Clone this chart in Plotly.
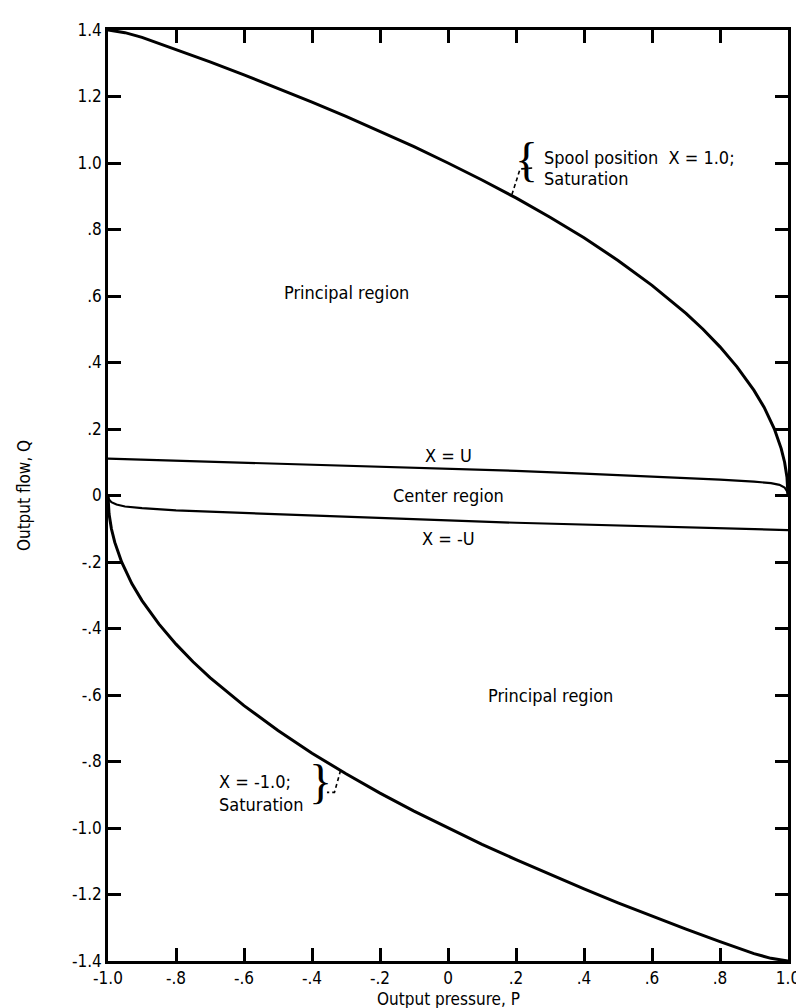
import plotly.graph_objects as go

# ---- data ----
sat_pos_P = [-1.0, -0.95, -0.9, -0.8, -0.7, -0.6, -0.5, -0.4, -0.3, -0.2, -0.1, 0.0, 0.1, 0.2, 0.3,
             0.4, 0.5, 0.6, 0.7, 0.75, 0.8, 0.85, 0.9, 0.93, 0.96, 0.98, 0.99, 0.997, 1.0]
sat_pos_Q = [1.40, 1.392, 1.378, 1.342, 1.304, 1.265, 1.225, 1.183, 1.14, 1.095, 1.049, 1.0, 0.949,
             0.895, 0.837, 0.775, 0.707, 0.632, 0.548, 0.50, 0.447, 0.387, 0.316, 0.265, 0.20,
             0.141, 0.10, 0.055, 0.0]

sat_neg_P = [-1.0, -0.997, -0.99, -0.98, -0.96, -0.93, -0.9, -0.85, -0.8, -0.75, -0.7, -0.6, -0.5,
             -0.4, -0.3, -0.2, -0.1, 0.0, 0.1, 0.2, 0.3, 0.4, 0.5, 0.6, 0.7, 0.8, 0.9, 0.95, 1.0]
sat_neg_Q = [0.0, -0.055, -0.10, -0.141, -0.20, -0.265, -0.316, -0.387, -0.447, -0.50, -0.548,
             -0.632, -0.707, -0.775, -0.837, -0.895, -0.949, -1.0, -1.049, -1.095, -1.14, -1.183,
             -1.225, -1.265, -1.304, -1.342, -1.378, -1.392, -1.40]

xu_P = [-1.0, -0.8, -0.6, -0.4, -0.2, 0.0, 0.2, 0.4, 0.6, 0.8, 0.9, 0.95, 0.975, 0.99, 0.997, 1.0]
xu_Q = [0.111, 0.105, 0.10, 0.094, 0.088, 0.081, 0.074, 0.066, 0.058, 0.048, 0.042, 0.037, 0.032,
        0.024, 0.013, 0.004]

xmu_P = [-1.0, -0.997, -0.99, -0.975, -0.95, -0.9, -0.8, -0.6, -0.4, -0.2, 0.0, 0.2, 0.4, 0.6,
         0.8, 1.0]
xmu_Q = [-0.004, -0.012, -0.020, -0.027, -0.033, -0.038, -0.045, -0.053, -0.061, -0.068, -0.075,
         -0.082, -0.088, -0.094, -0.099, -0.104]

x_ticks = [-1.0, -0.8, -0.6, -0.4, -0.2, 0.0, 0.2, 0.4, 0.6, 0.8, 1.0]
x_tick_labels = ["-1.0", "-.8", "-.6", "-.4", "-.2", "0", ".2", ".4", ".6", ".8", "1.0"]
y_ticks = [1.4, 1.2, 1.0, 0.8, 0.6, 0.4, 0.2, 0.0, -0.2, -0.4, -0.6, -0.8, -1.0, -1.2, -1.4]
y_tick_labels = ["1.4", "1.2", "1.0", ".8", ".6", ".4", ".2", "0", "-.2", "-.4", "-.6", "-.8",
                 "-1.0", "-1.2", "-1.4"]

FONT = "DejaVu Sans Condensed, Liberation Sans Narrow, Arial Narrow, sans-serif"
BRACE_FONT = "Liberation Serif, DejaVu Serif, serif"

fig = go.Figure()
fig.add_trace(go.Scatter(x=sat_pos_P, y=sat_pos_Q, mode="lines", line=dict(color="black", width=3), hoverinfo="skip"))
fig.add_trace(go.Scatter(x=sat_neg_P, y=sat_neg_Q, mode="lines", line=dict(color="black", width=3), hoverinfo="skip"))
fig.add_trace(go.Scatter(x=xu_P, y=xu_Q, mode="lines", line=dict(color="black", width=2.2), hoverinfo="skip"))
fig.add_trace(go.Scatter(x=xmu_P, y=xmu_Q, mode="lines", line=dict(color="black", width=2.2), hoverinfo="skip"))

# leader lines (dashed)
fig.add_trace(go.Scatter(x=[0.188, 0.212, 0.250], y=[0.905, 0.982, 0.985], mode="lines",
                         line=dict(color="black", width=1.6, dash="4px,3px"), hoverinfo="skip"))
fig.add_trace(go.Scatter(x=[-0.316, -0.334, -0.356], y=[-0.827, -0.893, -0.893], mode="lines",
                         line=dict(color="black", width=1.6, dash="4px,3px"), hoverinfo="skip"))

ann_font = dict(family=FONT, size=18, color="black")
annotations = [
    dict(x=-0.30, y=0.61, text="Principal region", xanchor="center", yanchor="middle"),
    dict(x=0.30, y=-0.60, text="Principal region", xanchor="center", yanchor="middle"),
    dict(x=0.0, y=0.12, text="X = U", xanchor="center", yanchor="middle"),
    dict(x=0.0, y=0.0, text="Center region", xanchor="center", yanchor="middle"),
    dict(x=0.0, y=-0.13, text="X = -U", xanchor="center", yanchor="middle"),
    dict(x=0.275, y=1.018, text="Spool position  X = 1.0;", xanchor="left", yanchor="middle"),
    dict(x=0.275, y=0.952, text="Saturation", xanchor="left", yanchor="middle"),
    dict(x=-0.68, y=-0.86, text="X = -1.0;", xanchor="left", yanchor="middle"),
    dict(x=-0.68, y=-0.928, text="Saturation", xanchor="left", yanchor="middle"),
]
for a in annotations:
    a.update(showarrow=False, xref="x", yref="y", font=ann_font)
annotations.append(dict(x=0.272, y=1.012, text="{", xanchor="right", yanchor="middle", showarrow=False,
                        xref="x", yref="y", font=dict(family=BRACE_FONT, size=48, color="black")))
annotations.append(dict(x=-0.416, y=-0.86, text="}", xanchor="left", yanchor="middle", showarrow=False,
                        xref="x", yref="y", font=dict(family=BRACE_FONT, size=48, color="black")))
# x-axis title placed precisely below the tick labels
annotations.append(dict(x=0.5, y=-0.0405, xref="paper", yref="paper", text="Output pressure, P",
                        xanchor="center", yanchor="middle", showarrow=False, borderpad=0,
                        font=dict(family=FONT, size=17, color="black")))

axis_common = dict(showgrid=False, zeroline=False, showline=True, linecolor="black", linewidth=2.5,
                   mirror="ticks", ticks="inside", ticklen=13, tickwidth=2.5, tickcolor="black",
                   tickfont=dict(family=FONT, size=17, color="black"))

fig.update_layout(
    width=804, height=1008,
    margin=dict(l=100, r=17, t=15, b=55),
    paper_bgcolor="white", plot_bgcolor="white",
    showlegend=False,
    annotations=annotations,
    xaxis=dict(range=[-1.0, 1.0], tickvals=x_ticks, ticktext=x_tick_labels, **axis_common),
    yaxis=dict(range=[-1.4, 1.4], tickvals=y_ticks, ticktext=y_tick_labels,
               title=dict(text="Output flow, Q", font=dict(family=FONT, size=17, color="black"), standoff=38),
               **axis_common),
)

fig.write_html("out.html")
